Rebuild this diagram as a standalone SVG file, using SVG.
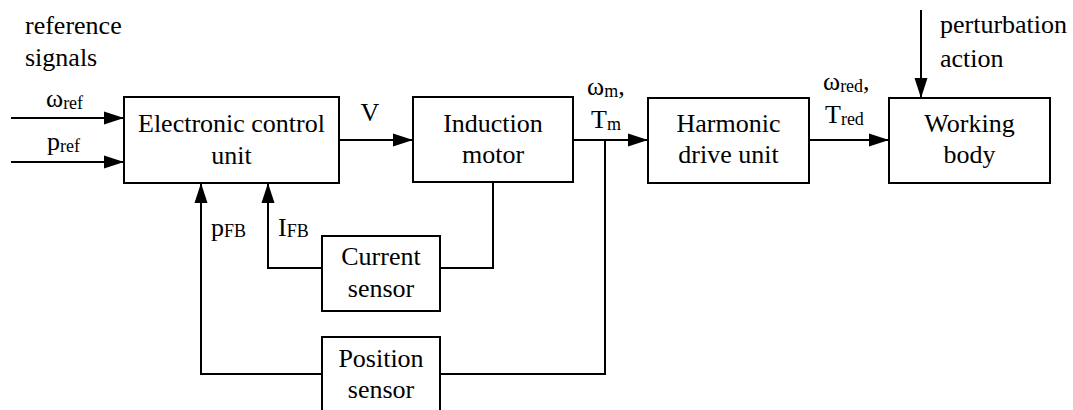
<svg xmlns="http://www.w3.org/2000/svg" width="1073" height="410" viewBox="0 0 1073 410">
<style>
.box{fill:#fff;stroke:#000;stroke-width:2}
.ln{fill:none;stroke:#000;stroke-width:2}
text{font-family:"Liberation Serif","Times New Roman",serif;font-size:26px;fill:#000}
.c{text-anchor:middle}
.s{font-size:18px}
</style>
<defs>
<marker id="ar" markerUnits="userSpaceOnUse" markerWidth="22" markerHeight="14" refX="20" refY="7" orient="auto">
<path d="M0,0.5 L20,7 L0,13.5 Z" fill="#000"/>
</marker>
</defs>
<rect width="1073" height="410" fill="#fff"/>
<g id="connectors">
<line class="ln" x1="11" y1="118" x2="124" y2="118" marker-end="url(#ar)"/>
<line class="ln" x1="11" y1="162" x2="124" y2="162" marker-end="url(#ar)"/>
<line class="ln" x1="339" y1="140" x2="413" y2="140" marker-end="url(#ar)"/>
<line class="ln" x1="573" y1="140" x2="648" y2="140" marker-end="url(#ar)"/>
<line class="ln" x1="809" y1="140" x2="889" y2="140" marker-end="url(#ar)"/>
<line class="ln" x1="921" y1="10" x2="921" y2="98" marker-end="url(#ar)"/>
<polyline class="ln" points="493,182 493,268 440,268"/>
<polyline class="ln" points="322,268 268,268 268,183" marker-end="url(#ar)"/>
<polyline class="ln" points="605,140 605,374 440,374"/>
<polyline class="ln" points="322,374 201,374 201,183" marker-end="url(#ar)"/>
</g>
<g id="labels">
<text x="25" y="34">reference</text>
<text x="25" y="66">signals</text>
<text x="46" y="107">ω<tspan class="s" dy="2">ref</tspan></text>
<text x="47" y="150">p<tspan class="s" dy="2">ref</tspan></text>
<text x="370" y="121" class="c">V</text>
<text x="587" y="95">ω<tspan class="s" dy="2">m</tspan><tspan dy="-2">,</tspan></text>
<text x="591" y="128">T<tspan class="s" dy="2">m</tspan></text>
<text x="823" y="90">ω<tspan class="s" dy="2">red</tspan><tspan dy="-2">,</tspan></text>
<text x="825" y="123">T<tspan class="s" dy="2">red</tspan></text>
<text x="940" y="33">perturbation</text>
<text x="940" y="67">action</text>
<text x="211" y="236">p<tspan class="s" dy="1">FB</tspan></text>
<text x="278" y="236">I<tspan class="s" dy="1">FB</tspan></text>
</g>
<g id="ecu">
<rect class="box" x="124" y="97" width="215" height="86"/>
<text x="231.5" y="132" class="c">Electronic control</text>
<text x="231.5" y="164" class="c">unit</text>
</g>
<g id="motor">
<rect class="box" x="413" y="97" width="160" height="85"/>
<text x="493" y="132" class="c">Induction</text>
<text x="493" y="163" class="c">motor</text>
</g>
<g id="harmonic">
<rect class="box" x="648" y="98" width="161" height="85"/>
<text x="728.5" y="132" class="c">Harmonic</text>
<text x="728.5" y="163" class="c">drive unit</text>
</g>
<g id="working">
<rect class="box" x="889" y="98" width="161" height="85"/>
<text x="969.5" y="132" class="c">Working</text>
<text x="969.5" y="163" class="c">body</text>
</g>
<g id="current">
<rect class="box" x="322" y="236" width="118" height="75"/>
<text x="381" y="265" class="c">Current</text>
<text x="381" y="297" class="c">sensor</text>
</g>
<g id="position">
<rect class="box" x="322" y="337" width="118" height="90"/>
<text x="381" y="367" class="c">Position</text>
<text x="381" y="398" class="c">sensor</text>
</g>
</svg>
